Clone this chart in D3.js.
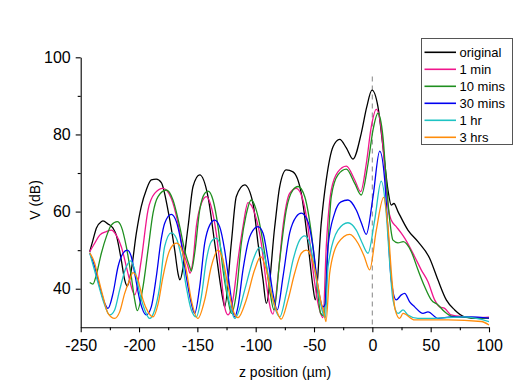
<!DOCTYPE html>
<html>
<head>
<meta charset="utf-8">
<script src="https://cdn.jsdelivr.net/npm/d3@7"></script>
<style>
  body { margin: 0; background: #fff; }
  svg { display: block; font-family: "Liberation Sans", Arial, sans-serif; }
</style>
</head>
<body>
<svg id="chart" width="518" height="380"></svg>
<script>
// ─── Data (z in µm, V in dB) ────────────────────────────────────────────────

const seriesNames = ["original", "1 min", "10 mins", "30 mins", "1 hr", "3 hrs"];
const seriesColors = ["#000000", "#f0168c", "#1f8f1f", "#0000f0", "#1ec3c3", "#ff8c0a"];

const original = [
    [-242.3,49.6],[-239.5,52.6],[-236.6,55.7],[-232.3,57.4],[-230.9,57.6],[-226.6,56.8],[-222.3,55.7],
    [-219.5,53.9],[-215.2,47.4],[-212.3,42.3],[-210.1,40.7],[-206.6,44.9],[-202.3,54.4],[-198.1,61.3],
    [-193.8,65.6],[-189.5,68.2],[-185.2,68.4],[-180.9,67.5],[-175.2,60.4],[-169.4,50],[-166.6,44],
    [-165.1,42.3],[-158,56],[-153.7,66.5],[-148,69.5],[-140.9,63.9],[-135.1,51.8],[-128,37.1],
    [-126.6,35.3],[-120.9,51.8],[-116.6,63.9],[-109.4,66.9],[-102.3,62.1],[-98,51.8],[-93.7,42.3],
    [-90.9,36.2],[-83.7,56],[-79.4,66.5],[-73.8,70.8],[-68,70.3],[-60.9,64.7],[-55.2,51.8],
    [-50.9,40.5],[-48.9,37.1],[-43.8,57],[-39.5,68.2],[-33.7,76.8],[-28,78.7],[-22.3,76.5],
    [-16.6,73.6],[-9.5,80.3],[-4.9,87],[-0.3,91.5],[4.8,87.2],[9.1,76.8],[13.4,65.6],[16.2,61.7],
    [18.5,62.1],[22,60],[30.5,55.2],[39.1,52.2],[49.1,47.9],[56.2,42.3],[63.4,37.1],[70.6,34.5],
    [79.1,32.7],[90.5,32.3],[100,32.3]
];

const oneMin = [
    [-242.3,49.6],[-238,51.8],[-233.7,53.9],[-228,54.8],[-223.8,55.2],[-219.5,53.9],[-215.2,50.9],
    [-209.5,44],[-205.2,39.2],[-203.7,38.4],[-198.1,47.4],[-192.3,60.4],[-186.6,64.7],[-179.5,66],
    [-172.3,63.4],[-166.6,57],[-162.3,50],[-158,45.7],[-156.3,44],[-153.7,47.4],[-150.9,56.1],
    [-146.6,62.1],[-142.3,63.9],[-138.1,61.3],[-133.8,54.4],[-129.5,43.1],[-126.6,35.3],[-123.7,33.2],
    [-119.5,37.1],[-115.2,47.4],[-110.9,56.1],[-106.6,62.3],[-100.9,59.6],[-95.2,51.8],[-90.9,41.4],
    [-86.6,34],[-85.2,33.4],[-80.9,43.1],[-76.6,56.1],[-70.9,64.7],[-65.2,66],[-59.5,63],[-55.2,56.1],
    [-50.9,44.9],[-46.6,36.2],[-43.8,33.2],[-42.3,32.5],[-39.5,50.9],[-35.2,65.6],[-29.5,70.3],
    [-22.3,71.8],[-15.1,68.2],[-10,65.2],[-5.2,72.4],[-0.9,82],[3.4,86.5],[7.7,81.2],[10.6,71.6],
    [13.4,61.3],[16.2,57.8],[20.5,56.1],[24.8,54.4],[27.7,53.1],[36.3,48.3],[41.9,44.9],[47.7,41.8],
    [53.4,37.1],[57.7,35.3],[62,34.9],[67.7,33.2],[79.1,32.7],[90.5,32.5],[100,32.6]
];

const tenMins = [
    [-242.3,41.6],[-239.5,41.2],[-236.6,43.6],[-232.3,49.2],[-228,53.5],[-223.8,56.5],[-218.6,57.4],
    [-215.2,56.1],[-210.9,50.9],[-206.6,43.1],[-203.7,37.1],[-201.5,34.3],[-196.6,40.5],[-192.3,50],
    [-188,59.6],[-183.7,63.9],[-176.6,65.6],[-170.9,63],[-165.1,56.1],[-160.9,50],[-156.6,45.7],
    [-155.2,44.6],[-152.3,49.2],[-148,60.4],[-143.7,64.7],[-140.9,65.3],[-136.6,63],[-132.3,56.1],
    [-128,44.9],[-123.7,37.1],[-120.9,33.6],[-116.6,38.8],[-112.3,51.8],[-108.3,59],[-103.8,63],
    [-98,58.7],[-92.3,49.2],[-88,39.7],[-84.3,34.5],[-79.4,47.4],[-73.8,60.4],[-68,65.6],[-63.7,66.5],
    [-58,63.9],[-52.3,54.4],[-48,43.1],[-44.3,33.6],[-41.4,33],[-38.6,48],[-35.2,63.9],[-29.5,69.5],
    [-22.3,71],[-15.1,67.3],[-9.5,64.3],[-3.7,72.4],[0.6,81.2],[4.8,85.5],[9.1,79.4],[11.9,68.2],
    [14.9,57.8],[17.7,52.6],[22,51.9],[26.5,52.2],[33.4,49.6],[39.1,44.9],[44.9,40.5],[50.5,37.1],
    [56.3,35.8],[62,34],[67.7,32.9],[83.7,32.5],[100,32.3]
];

const thirtyMins = [
    [-242.3,49.3],[-238,45.7],[-233.7,40.5],[-229.4,36.2],[-226.6,34.9],[-222.3,38.8],[-218,45.7],
    [-213.7,49.2],[-210.1,50],[-206.6,48.3],[-203.7,44],[-199.4,37.1],[-193.8,33.2],[-189.5,35.3],
    [-185.2,43.1],[-180.9,53],[-178,57],[-172.3,59.3],[-168,57.4],[-163.8,51.8],[-159.5,43.1],
    [-155.2,36.2],[-152.3,33.6],[-148,40.5],[-143.7,51.8],[-139.4,56.5],[-135.1,57.8],[-130.9,56.1],
    [-126.6,50],[-122.3,40.5],[-118,32.7],[-115.2,35.3],[-110.9,44.9],[-105.1,53.5],[-98,56.1],
    [-93.7,54.4],[-89.4,47.4],[-85.2,38.8],[-81.5,34.5],[-76.6,43.1],[-70.9,54.4],[-65.2,58.7],
    [-60.9,59.6],[-55.2,57.4],[-50.9,50.9],[-46.6,40.5],[-42.3,35.3],[-40.5,36],[-38,50.9],
    [-32.3,59.6],[-26.9,62.5],[-20.9,63],[-13.8,60.4],[-9.3,57],[-5.2,54.1],[0.6,63.9],[6.3,75.7],
    [10.6,68.2],[13.4,55.2],[16.2,42.3],[20.5,37.1],[24.8,38.4],[27.7,38.8],[32,36.6],[36.3,35.3],
    [43.4,33.6],[47.7,34],[56.3,32.3],[67.7,32.7],[83.7,32.7],[100,32.4]
];

const oneHr = [
    [-242.3,49.3],[-236.6,43.1],[-230.9,37.1],[-225.1,33.2],[-220.9,34.5],[-216.6,39.7],[-210.9,45.7],
    [-207.1,47.2],[-203.7,44.9],[-199.4,38.8],[-195.1,34.5],[-190.9,32.3],[-186.6,34.5],[-182.3,40.5],
    [-178,51],[-172.3,54.5],[-168,53.1],[-163.8,48.3],[-159.5,40.5],[-155.2,34.5],[-150.9,32.7],
    [-146.6,37.9],[-142.3,47.4],[-138.1,52.2],[-133.8,53.1],[-129.5,50],[-125.2,40.5],[-120.9,34.5],
    [-118,32.3],[-115.2,33.6],[-109.4,39.7],[-102.3,47.4],[-96.6,50.7],[-92.3,48.3],[-88,41.4],
    [-83.7,35.3],[-79.4,32.7],[-73.8,38.8],[-68,47.4],[-62.3,52.6],[-58,53.7],[-53.7,51.8],
    [-49.4,44.9],[-45.1,37.1],[-42.3,33.6],[-40.2,32.5],[-38,45.7],[-29.5,55.2],[-20.9,57.1],
    [-13.8,55.2],[-8.9,52],[-3.7,49.2],[2,57.8],[7.6,67.9],[11.9,59.6],[14.9,46.6],[17.7,37.1],
    [22,33.6],[26.3,34.5],[30.5,33.2],[39.1,32.3],[50.5,32.3],[79.1,32.7],[100,31.5]
];

const threeHrs = [
    [-242.3,49.3],[-238,46.6],[-235.2,43.1],[-230.9,38],[-226.6,33.6],[-220.9,32.3],[-216.6,34],
    [-212.3,38.8],[-208,42.3],[-205.2,44.2],[-200.9,42.3],[-196.6,37.1],[-192.3,34],[-188,32.7],
    [-183.7,36],[-179.5,43.1],[-173.7,50],[-168,51.8],[-163.8,50.5],[-159.5,44.9],[-155.2,37.1],
    [-149.5,32.3],[-143.7,37.1],[-138.1,45.7],[-132.3,50],[-128,47.4],[-123.7,40.5],[-119.5,34.5],
    [-115.2,32.5],[-108.1,37.1],[-100.9,44.9],[-95.7,48.3],[-90.9,44.9],[-86.6,38.8],[-82.3,34.5],
    [-78.1,32.1],[-72.3,37.1],[-66.6,44],[-60.9,49.2],[-56.6,50],[-52.3,48.3],[-48,43.1],[-43.8,36.2],
    [-41.4,33.6],[-39.7,31.5],[-36.6,44],[-29.5,51.8],[-19.4,54.1],[-12.3,51.8],[-7.1,48.5],
    [-2.3,44.9],[3.4,55.2],[9.7,63.7],[13.4,56.1],[16.8,42.3],[19.6,34.5],[23.4,32.3],[26.3,33.6],
    [36.3,31.9],[64.9,31.9],[93.4,31.5],[100,30.6]
];

const allSeries = [original, oneMin, tenMins, thirtyMins, oneHr, threeHrs];

const xMajorTicks = [-250, -200, -150, -100, -50, 0, 50, 100];
const xMinorTicks = [-225, -175, -125, -75, -25, 25, 75];
const yMajorTicks = [40, 60, 80, 100];
const yMinorTicks = [50, 70, 90];

// ─── Scales ──────────────────────────────────────────────────────────────────

const svg = d3.select("#chart");

const x = d3.scaleLinear().domain([-250, 100]).range([80.7, 489]);
const y = d3.scaleLinear().domain([30, 100]).range([327.3, 57.3]);

// dashed reference line at z = 0
svg.append("line")
    .attr("x1", x(0)).attr("x2", x(0))
    .attr("y1", y(95)).attr("y2", y(30))
    .attr("stroke", "#999")
    .attr("stroke-width", 1.2)
    .attr("stroke-dasharray", "5,4");

// ─── Curves ──────────────────────────────────────────────────────────────────

const line = d3.line()
    .x(d => x(d[0]))
    .y(d => y(d[1]))
    .curve(d3.curveMonotoneX);

svg.append("g")
    .selectAll("path")
    .data(allSeries)
    .join("path")
    .attr("d", line)
    .attr("fill", "none")
    .attr("stroke", (d, i) => seriesColors[i])
    .attr("stroke-width", 1.3)
    .attr("stroke-linejoin", "round");

// ─── Axes ────────────────────────────────────────────────────────────────────

const fmt = d => String(d);

const xAxis = svg.append("g")
    .attr("transform", `translate(0,${y(30)})`)
    .call(d3.axisBottom(x).tickValues(xMajorTicks).tickFormat(fmt).tickSize(5).tickSizeOuter(0).tickPadding(7));
svg.append("g")
    .attr("transform", `translate(0,${y(30)})`)
    .call(d3.axisBottom(x).tickValues(xMinorTicks).tickFormat("").tickSize(3).tickSizeOuter(0))
    .select(".domain").remove();

const yAxis = svg.append("g")
    .attr("transform", `translate(${x(-250)},0)`)
    .call(d3.axisLeft(y).tickValues(yMajorTicks).tickFormat(fmt).tickSize(5).tickSizeOuter(0).tickPadding(5));
svg.append("g")
    .attr("transform", `translate(${x(-250)},0)`)
    .call(d3.axisLeft(y).tickValues(yMinorTicks).tickFormat("").tickSize(3).tickSizeOuter(0))
    .select(".domain").remove();

svg.selectAll(".tick line, .domain").attr("stroke", "#000").attr("stroke-width", 1.1);
svg.selectAll(".tick text")
    .attr("font-size", 16)
    .attr("font-family", "Liberation Sans, Arial, sans-serif")
    .attr("fill", "#000");

// axis titles
svg.append("text")
    .attr("x", 285).attr("y", 377)
    .attr("text-anchor", "middle")
    .attr("font-size", 14)
    .text("z position (\u00b5m)");

svg.append("text")
    .attr("transform", "translate(40,200) rotate(-90)")
    .attr("text-anchor", "middle")
    .attr("font-size", 14)
    .text("V (dB)");

// ─── Legend ──────────────────────────────────────────────────────────────────

const legend = svg.append("g");
legend.append("rect")
    .attr("x", 421.5).attr("y", 38.5)
    .attr("width", 91).attr("height", 106)
    .attr("fill", "#fff")
    .attr("stroke", "#555")
    .attr("stroke-width", 1);

seriesNames.forEach((name, i) => {
    const ly = 52.3 + i * 17;
    legend.append("line")
        .attr("x1", 424.5).attr("x2", 456)
        .attr("y1", ly).attr("y2", ly)
        .attr("stroke", seriesColors[i])
        .attr("stroke-width", 1.6);
    legend.append("text")
        .attr("x", 459.5).attr("y", ly + 4.5)
        .attr("font-size", 13)
        .text(name);
});
</script>
</body>
</html>
